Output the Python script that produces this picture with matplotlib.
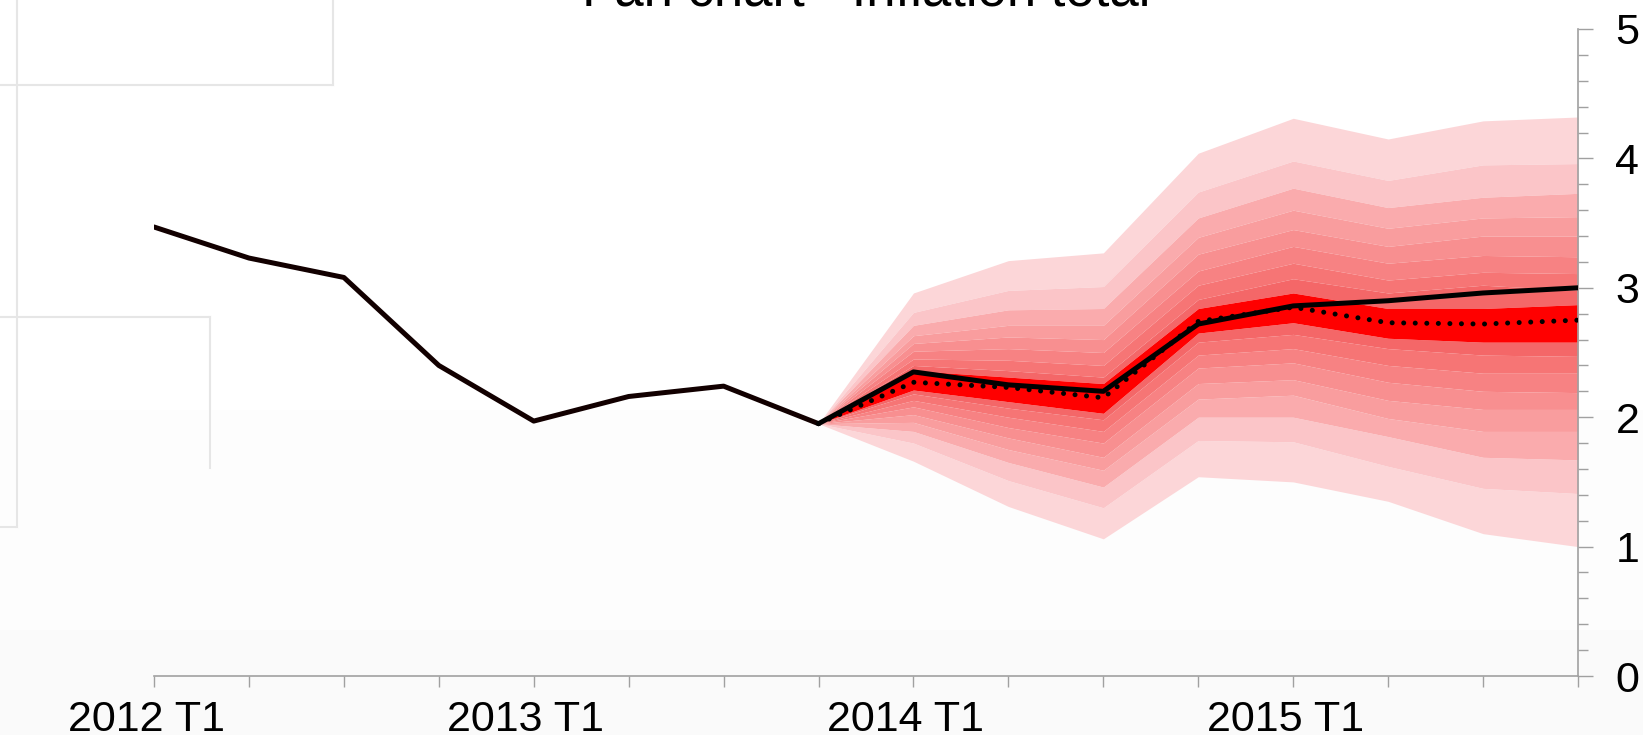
import matplotlib
matplotlib.use("Agg")
import matplotlib.pyplot as plt
import matplotlib.transforms as mtransforms
import numpy as np
from matplotlib.lines import Line2D

# ---------------- data ----------------
quarters = [f"{y} T{q}" for y in (2012, 2013, 2014, 2015) for q in (1, 2, 3, 4)]
tick_labels = ["2012 T1", "", "", "", "2013 T1", "", "", "", "2014 T1", "", "", "",
               "2015 T1", "", "", ""]

history = [3.47, 3.23, 3.08, 2.40, 1.97, 2.16, 2.24, 1.95]          # 2012 T1 .. 2013 T4
forecast_solid = [1.95, 2.35, 2.25, 2.20, 2.72, 2.86, 2.90, 2.96, 3.00]   # 2013 T4 .. 2015 T4
forecast_median = [1.95, 2.27, 2.23, 2.15, 2.74, 2.85, 2.73, 2.72, 2.75]

mid_hi = [1.95, 2.36, 2.31, 2.26, 2.84, 2.96, 2.84, 2.84, 2.87]
mid_lo = [1.95, 2.21, 2.12, 2.03, 2.65, 2.73, 2.61, 2.58, 2.58]

hi1 = [1.95, 2.40, 2.36, 2.31, 2.91, 3.07, 2.96, 3.02, 2.98]
hi2 = [1.95, 2.45, 2.44, 2.40, 3.02, 3.19, 3.06, 3.12, 3.11]
hi3 = [1.95, 2.51, 2.53, 2.50, 3.13, 3.32, 3.19, 3.25, 3.24]
hi4 = [1.95, 2.57, 2.62, 2.60, 3.26, 3.45, 3.32, 3.40, 3.40]
hi5 = [1.95, 2.63, 2.71, 2.71, 3.39, 3.60, 3.46, 3.54, 3.55]
hi6 = [1.95, 2.71, 2.83, 2.84, 3.54, 3.77, 3.62, 3.70, 3.73]
hi7 = [1.95, 2.81, 2.98, 3.01, 3.74, 3.98, 3.83, 3.95, 3.96]
hi8 = [1.95, 2.96, 3.21, 3.27, 4.04, 4.31, 4.15, 4.29, 4.32]

lo1 = [1.95, 2.18, 2.07, 1.98, 2.58, 2.64, 2.53, 2.48, 2.47]
lo2 = [1.95, 2.13, 2.00, 1.89, 2.48, 2.53, 2.40, 2.34, 2.34]
lo3 = [1.95, 2.08, 1.92, 1.80, 2.38, 2.42, 2.27, 2.20, 2.19]
lo4 = [1.95, 2.02, 1.84, 1.69, 2.26, 2.29, 2.13, 2.06, 2.06]
lo5 = [1.95, 1.96, 1.75, 1.59, 2.14, 2.17, 1.99, 1.89, 1.89]
lo6 = [1.95, 1.89, 1.65, 1.46, 2.00, 2.00, 1.85, 1.69, 1.67]
lo7 = [1.95, 1.80, 1.51, 1.30, 1.82, 1.81, 1.62, 1.45, 1.41]
lo8 = [1.95, 1.66, 1.31, 1.06, 1.54, 1.50, 1.35, 1.10, 1.00]

title = "Fan chart - Inflation total"

# band colours, outermost -> innermost
band_colors = ["#fcd6d8", "#fbc5c8", "#faabad", "#f99d9e", "#f88f90",
               "#f78283", "#f67575", "#f46768"]
center_color = "#ff0000"

FONT = ["Liberation Sans", "DejaVu Sans"]

# ---------------- figure ----------------
W, H = 1643, 735
fig = plt.figure(figsize=(W / 100, H / 100), dpi=100)

# subtle background steps
bg = fig.add_axes([0, 0, 1, 1], zorder=-10)
grad = np.ones((H, 1, 3))
rows = np.arange(H)
grad[rows >= 410] = 0.996
grad[rows >= 630] = 0.982
bg.imshow(grad, aspect="auto", extent=[0, W, H, 0], interpolation="nearest")
bg.set_xlim(0, W)
bg.set_ylim(H, 0)
bg.axis("off")

# faint decorative frame lines (pixel coordinates of the figure)
lc = "#e6e6e6"
for xs, ys in [([17, 17], [0, 527]), ([0, 17], [527, 527]),
               ([0, 333], [85, 85]), ([333, 333], [0, 85]),
               ([0, 210], [317, 317]), ([210, 210], [317, 468])]:
    bg.add_line(Line2D(xs, ys, color=lc, lw=1.5))

ax = fig.add_axes([154 / W, 1 - 676 / H, (1578 - 154) / W, (676 - 29) / H])
ax.set_facecolor("none")

x_hist = np.arange(len(history))
x_fc = np.arange(len(history) - 1, len(quarters))

uppers = [hi8, hi7, hi6, hi5, hi4, hi3, hi2, hi1, mid_hi]
lowers = [lo8, lo7, lo6, lo5, lo4, lo3, lo2, lo1, mid_lo]
for i, col in enumerate(band_colors):
    ax.fill_between(x_fc, uppers[i + 1], uppers[i], color=col, lw=0)
    ax.fill_between(x_fc, lowers[i], lowers[i + 1], color=col, lw=0)
ax.fill_between(x_fc, mid_lo, mid_hi, color=center_color, lw=0)

ax.plot(x_hist, history, color="#120000", lw=3.6, solid_joinstyle="round",
        solid_capstyle="round", zorder=5)
ax.plot(x_fc, forecast_solid, color="black", lw=3.6, solid_joinstyle="round",
        solid_capstyle="round", zorder=5)
ax.plot(x_fc, forecast_median, color="black", lw=3.6, linestyle=(0, (0.01, 2.3)),
        dash_capstyle="round", zorder=6)

ax.set_xlim(0, len(quarters) - 1)
ax.set_ylim(0, 5)

for s in ("top", "left"):
    ax.spines[s].set_visible(False)
for s in ("bottom", "right"):
    ax.spines[s].set_color("#a0a0a0")
    ax.spines[s].set_linewidth(1.2)

ax.set_xticks(np.arange(len(quarters)))
ax.set_xticklabels(tick_labels)
ax.tick_params(axis="x", direction="out", length=8, width=1.0, color="#a0a0a0",
               pad=9.5, labelsize=31)
ax.yaxis.tick_right()
ax.set_yticks([0, 1, 2, 3, 4, 5])
ax.set_yticks(np.arange(0, 5.01, 0.2), minor=True)
ax.tick_params(axis="y", which="major", direction="out", length=11, width=1.0,
               color="#a0a0a0", pad=16, labelsize=31)
ax.tick_params(axis="y", which="minor", direction="out", length=7, width=1.0,
               color="#a0a0a0")
shift = mtransforms.ScaledTranslation(-8 / 100, 0, fig.dpi_scale_trans)
for lab in ax.get_xticklabels():
    lab.set_family(FONT)
    lab.set_transform(lab.get_transform() + shift)
for lab in ax.get_yticklabels():
    lab.set_family(FONT)

fig.text(866 / W, 1 - 5 / H, title, ha="center", va="baseline", fontsize=38,
         family=FONT, color="black")

fig.savefig("out.png", dpi=100)
